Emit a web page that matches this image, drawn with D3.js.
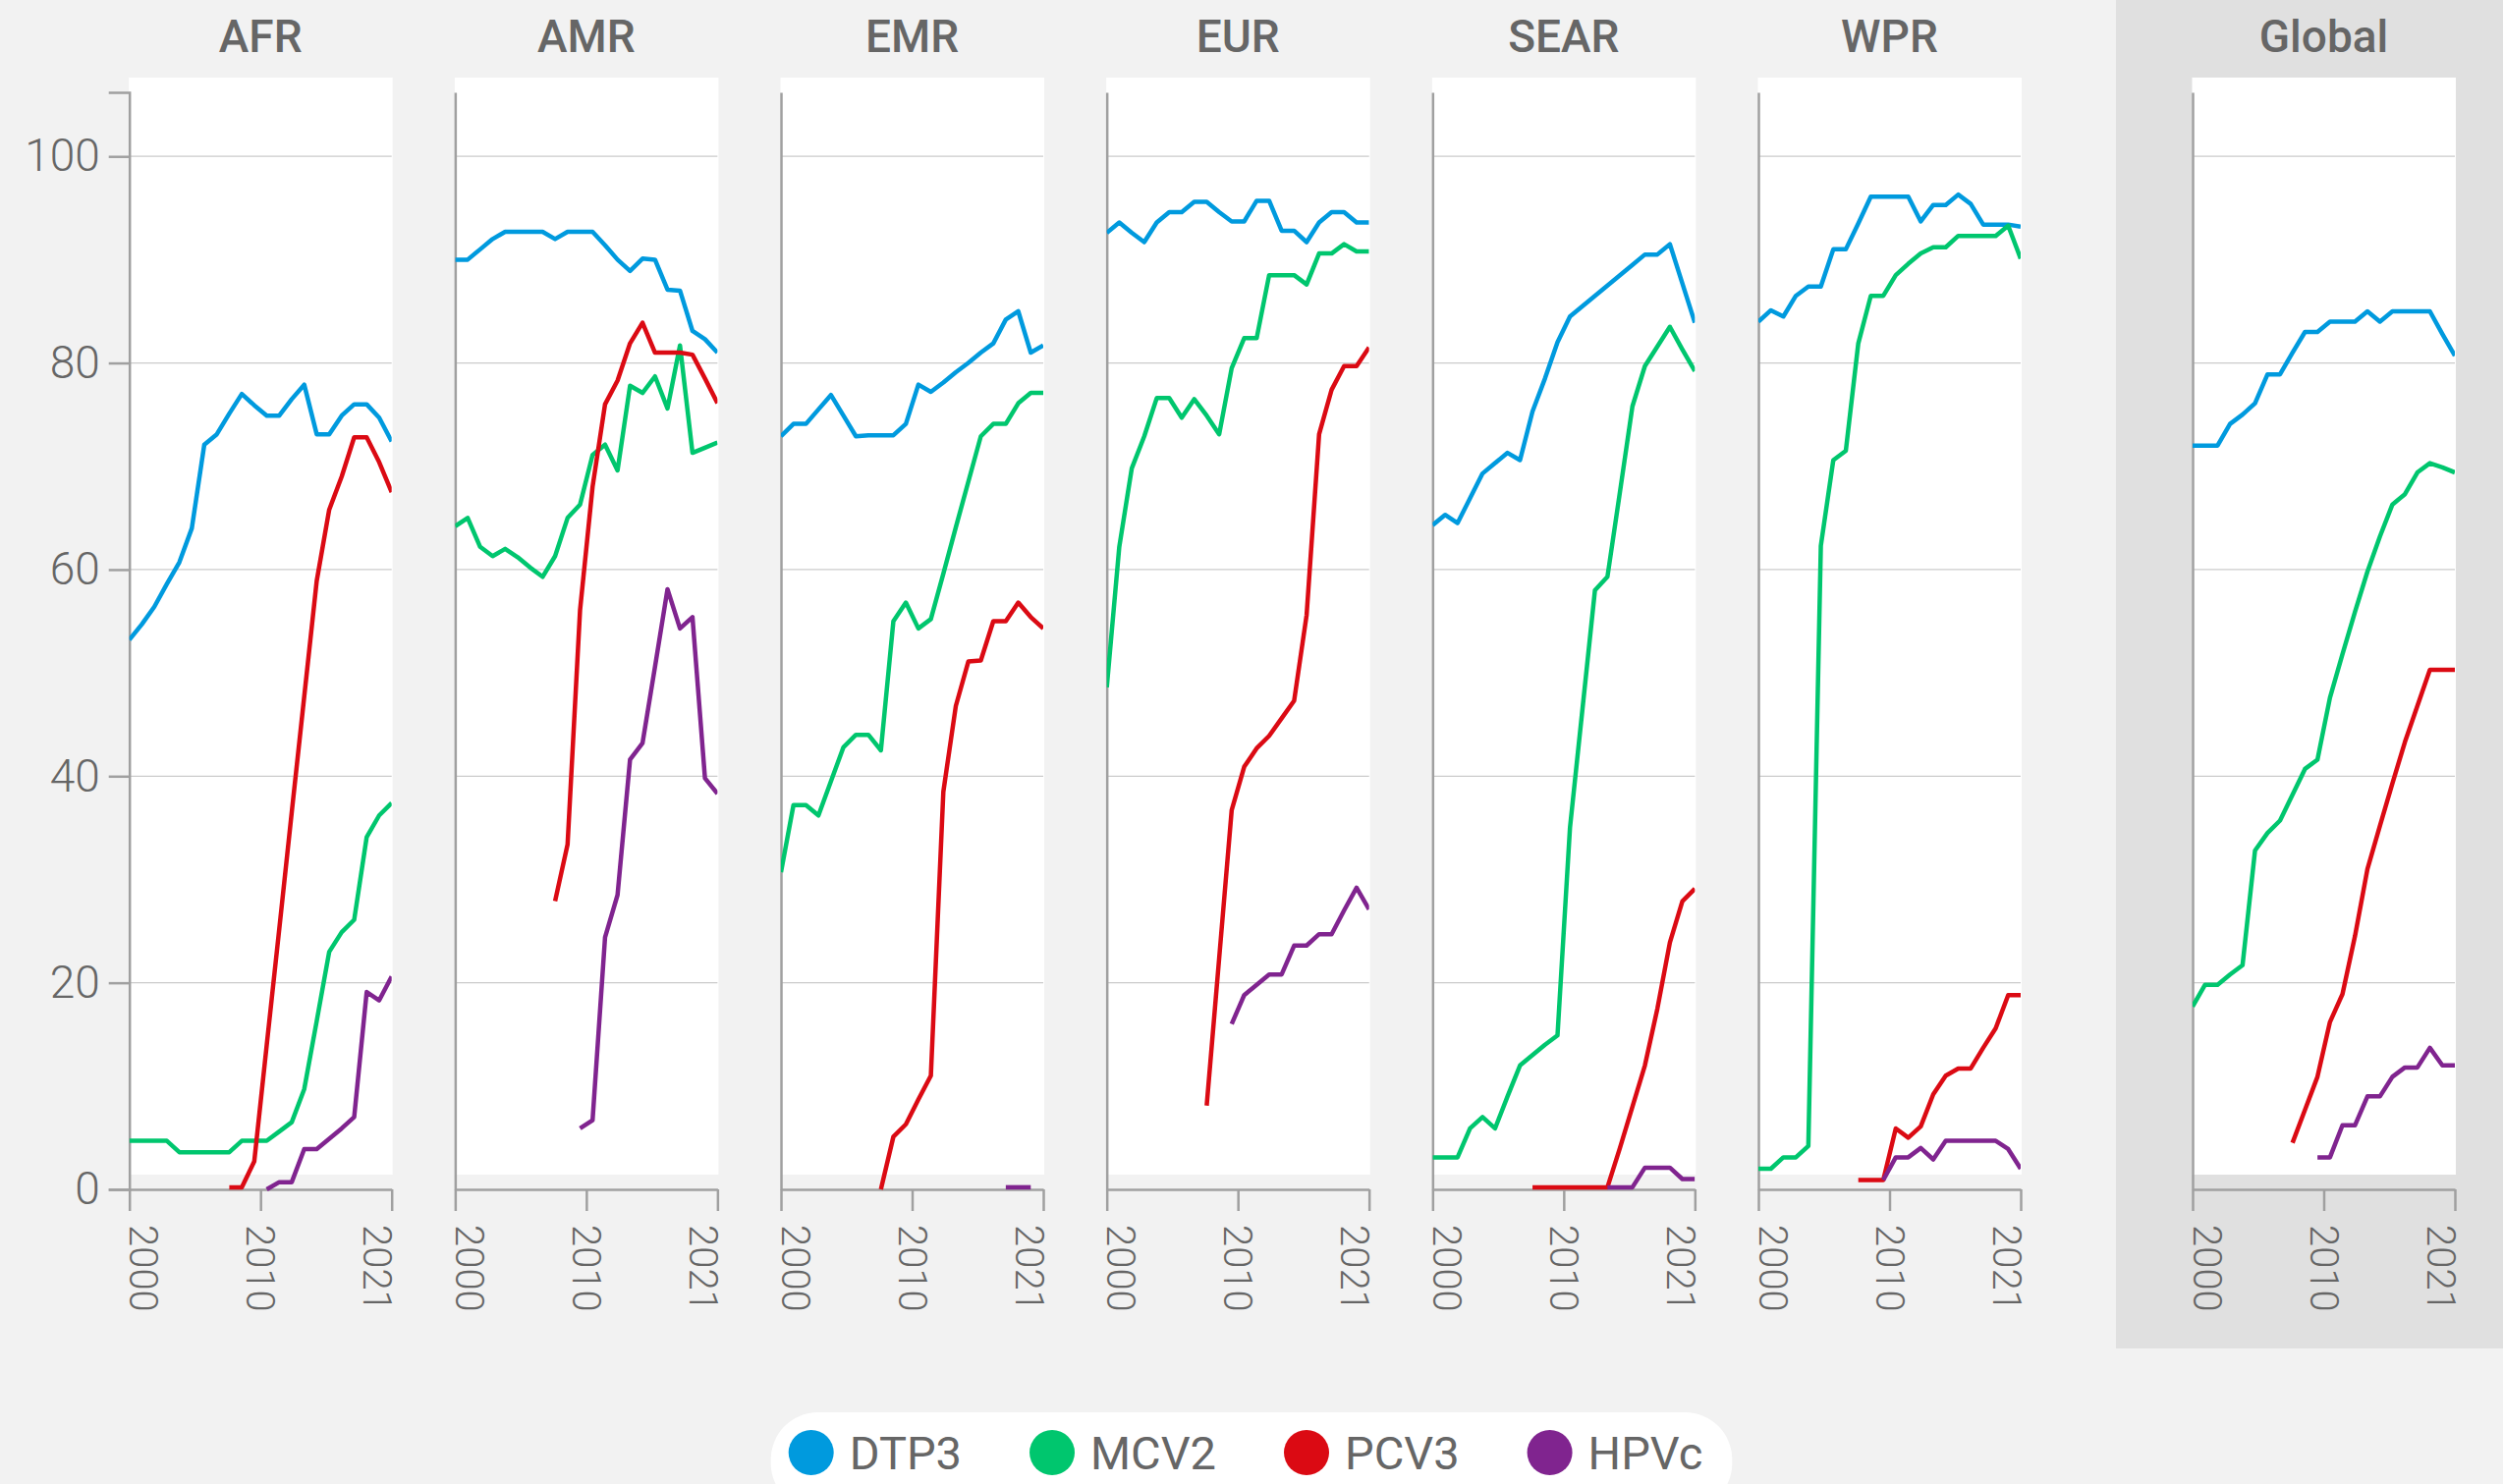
<!DOCTYPE html>
<html>
<head>
<meta charset="utf-8">
<script src="https://cdn.jsdelivr.net/npm/d3@7"></script>
<style>
  html, body { margin: 0; padding: 0; background: #f2f2f2; }
  svg { display: block; font-family: Roboto, "Noto Sans", sans-serif; }
</style>
</head>
<body>
<svg id="chart" width="2548" height="1511"></svg>
<script>
// ---- Data: immunization coverage (%) by WHO region, 2000–2021 ----
const years = [2000, 2001, 2002, 2003, 2004, 2005, 2006, 2007, 2008, 2009, 2010,
               2011, 2012, 2013, 2014, 2015, 2016, 2017, 2018, 2019, 2020, 2021];
const regions = ["AFR", "AMR", "EMR", "EUR", "SEAR", "WPR", "Global"];
const seriesNames = ["DTP3", "MCV2", "PCV3", "HPVc"];
const seriesColors = ["#009ade", "#00c66e", "#db0a13", "#80248f"];
const yTicks = [0, 20, 40, 60, 80, 100];
const xTickLabels = ["2000", "2010", "2021"];
const _ = null;

const afrDTP3 = [53.2, 54.7, 56.4, 58.6, 60.7, 64.0, 72.1, 73.1, 75.1, 77.0, 75.9, 74.9, 74.9, 76.5, 77.9, 73.1, 73.1, 74.9, 76.0, 76.0, 74.7, 72.4];
const afrMCV2 = [4.7, 4.7, 4.7, 4.7, 3.6, 3.6, 3.6, 3.6, 3.6, 4.7, 4.7, 4.7, 5.6, 6.5, 9.7, 16.3, 23.0, 24.9, 26.1, 34.1, 36.2, 37.4];
const afrPCV3 = [_, _, _, _, _, _, _, _, 0.2, 0.2, 2.7, 14.0, 25.2, 36.5, 47.7, 58.9, 65.8, 69.0, 72.8, 72.8, 70.4, 67.5];
const afrHPVc = [_, _, _, _, _, _, _, _, _, _, _, 0.0, 0.7, 0.7, 3.9, 3.9, 4.9, 5.9, 7.0, 19.1, 18.3, 20.6];

const amrDTP3 = [90.0, 90.0, 91.0, 92.0, 92.7, 92.7, 92.7, 92.7, 92.0, 92.7, 92.7, 92.7, 91.4, 90.0, 88.9, 90.1, 90.0, 87.1, 87.0, 83.1, 82.3, 81.0];
const amrMCV2 = [64.2, 65.0, 62.2, 61.3, 62.0, 61.2, 60.2, 59.3, 61.3, 65.0, 66.3, 71.1, 72.1, 69.6, 77.8, 77.1, 78.7, 75.6, 81.7, 71.3, 71.8, 72.3];
const amrPCV3 = [_, _, _, _, _, _, _, _, 27.9, 33.4, 56.1, 68.0, 76.0, 78.3, 81.9, 83.9, 81.0, 81.0, 81.0, 80.8, 78.5, 76.1];
const amrHPVc = [_, _, _, _, _, _, _, _, _, _, 5.9, 6.7, 24.4, 28.5, 41.6, 43.2, 50.6, 58.1, 54.3, 55.4, 39.8, 38.3];

const emrDTP3 = [72.9, 74.1, 74.1, 75.5, 76.9, 74.9, 72.9, 73.0, 73.0, 73.0, 74.1, 77.9, 77.2, 78.1, 79.1, 80.0, 81.0, 81.9, 84.2, 85.0, 81.0, 81.7];
const emrMCV2 = [30.7, 37.2, 37.2, 36.2, 39.5, 42.8, 44.0, 44.0, 42.5, 55.0, 56.8, 54.3, 55.2, 59.6, 64.1, 68.5, 72.9, 74.1, 74.1, 76.1, 77.1, 77.1];
const emrPCV3 = [_, _, _, _, _, _, _, _, 0.0, 5.1, 6.3, 8.7, 11.0, 38.5, 46.8, 51.1, 51.2, 55.0, 55.0, 56.8, 55.4, 54.3];
const emrHPVc = [_, _, _, _, _, _, _, _, _, _, _, _, _, _, _, _, _, _, 0.2, 0.2, 0.2, _];

const eurDTP3 = [92.6, 93.6, 92.6, 91.7, 93.6, 94.6, 94.6, 95.6, 95.6, 94.6, 93.7, 93.7, 95.7, 95.7, 92.8, 92.8, 91.7, 93.6, 94.6, 94.6, 93.6, 93.6];
const eurMCV2 = [48.6, 62.2, 69.8, 72.9, 76.6, 76.6, 74.7, 76.5, 74.9, 73.1, 79.5, 82.4, 82.4, 88.5, 88.5, 88.5, 87.6, 90.6, 90.6, 91.5, 90.8, 90.8];
const eurPCV3 = [_, _, _, _, _, _, _, _, 8.1, 22.4, 36.7, 40.9, 42.7, 43.9, 45.6, 47.3, 55.6, 73.1, 77.4, 79.7, 79.7, 81.5];
const eurHPVc = [_, _, _, _, _, _, _, _, _, _, 16.0, 18.8, 19.8, 20.8, 20.8, 23.6, 23.6, 24.7, 24.7, 27.0, 29.2, 27.1];

const searDTP3 = [64.3, 65.3, 64.5, 66.9, 69.3, 70.3, 71.3, 70.6, 75.3, 78.5, 82.0, 84.5, 85.5, 86.5, 87.5, 88.5, 89.5, 90.5, 90.5, 91.5, 87.7, 83.9];
const searMCV2 = [3.1, 3.1, 3.1, 5.9, 7.0, 5.9, 9.0, 12.0, 13.0, 14.0, 14.9, 35.0, 46.5, 58.0, 59.3, 67.5, 75.8, 79.7, 81.6, 83.5, 81.3, 79.2];
const searPCV3 = [_, _, _, _, _, _, _, _, 0.2, 0.2, 0.2, 0.2, 0.2, 0.2, 0.2, 4.0, 8.0, 12.0, 17.5, 23.9, 27.9, 29.1];
const searHPVc = [_, _, _, _, _, _, _, _, _, _, _, _, _, _, 0.2, 0.2, 0.2, 2.1, 2.1, 2.1, 1.0, 1.0];

const wprDTP3 = [84.0, 85.1, 84.5, 86.5, 87.4, 87.4, 91.0, 91.0, 93.5, 96.1, 96.1, 96.1, 96.1, 93.7, 95.3, 95.3, 96.3, 95.4, 93.4, 93.4, 93.4, 93.2];
const wprMCV2 = [2.0, 2.0, 3.1, 3.1, 4.2, 62.3, 70.6, 71.5, 81.9, 86.5, 86.5, 88.5, 89.6, 90.6, 91.2, 91.2, 92.3, 92.3, 92.3, 92.3, 93.3, 90.1];
const wprPCV3 = [_, _, _, _, _, _, _, _, 0.9, 0.9, 0.9, 5.9, 5.0, 6.1, 9.2, 11.0, 11.7, 11.7, 13.7, 15.6, 18.8, 18.8];
const wprHPVc = [_, _, _, _, _, _, _, _, _, _, 0.9, 3.1, 3.1, 4.0, 2.9, 4.7, 4.7, 4.7, 4.7, 4.7, 3.9, 2.0];

const globalDTP3 = [72.0, 72.0, 72.0, 74.1, 75.0, 76.1, 78.9, 78.9, 81.0, 83.0, 83.0, 84.0, 84.0, 84.0, 85.0, 84.0, 85.0, 85.0, 85.0, 85.0, 82.8, 80.7];
const globalMCV2 = [17.7, 19.8, 19.8, 20.8, 21.7, 32.8, 34.5, 35.7, 38.2, 40.7, 41.6, 47.6, 51.8, 55.9, 59.8, 63.2, 66.3, 67.3, 69.4, 70.3, 69.9, 69.4];
const globalPCV3 = [_, _, _, _, _, _, _, _, 4.5, 7.7, 10.9, 16.2, 18.9, 24.5, 31.0, 35.2, 39.3, 43.3, 46.8, 50.3, 50.3, 50.3];
const globalHPVc = [_, _, _, _, _, _, _, _, _, _, 3.1, 3.1, 6.2, 6.2, 9.0, 9.0, 10.9, 11.8, 11.8, 13.7, 12.0, 12.0];

// Series per region, in the order of seriesNames
const regionSeries = {
  AFR: [afrDTP3, afrMCV2, afrPCV3, afrHPVc],
  AMR: [amrDTP3, amrMCV2, amrPCV3, amrHPVc],
  EMR: [emrDTP3, emrMCV2, emrPCV3, emrHPVc],
  EUR: [eurDTP3, eurMCV2, eurPCV3, eurHPVc],
  SEAR: [searDTP3, searMCV2, searPCV3, searHPVc],
  WPR: [wprDTP3, wprMCV2, wprPCV3, wprHPVc],
  Global: [globalDTP3, globalMCV2, globalPCV3, globalHPVc]
};

// ---- Layout ----
const W = 2548, H = 1511;
const panelW = 267;
const firstX = 131.7, panelStep = 331.66;
const globalX = 2232;
const textColor = "#666666";
const axisColor = "#a0a0a0";
const gridColor = "#cbcbcb";

const svg = d3.select("#chart");
svg.append("rect").attr("width", W).attr("height", H).attr("fill", "#f2f2f2");

// shaded block behind the Global panel
svg.append("rect")
  .attr("x", 2154).attr("y", 0)
  .attr("width", W - 2154).attr("height", 1373)
  .attr("fill", "#e0e0e0");

const y = d3.scaleLinear().domain([0, 106.2]).range([1211, 94]);
const plotPad = 15; // white plot background sits slightly above the axis range

regions.forEach((region, ri) => {
  const x0 = region === "Global" ? globalX : firstX + ri * panelStep;
  const x = d3.scaleLinear().domain([years[0], years[years.length - 1]]).range([x0, x0 + panelW]);
  const g = svg.append("g").attr("class", "panel panel-" + region);

  // title
  g.append("text")
    .attr("x", x0 + panelW / 2).attr("y", 53)
    .attr("text-anchor", "middle")
    .attr("font-size", 46).attr("font-weight", 500)
    .attr("fill", textColor)
    .text(region);

  // white plot background
  g.append("rect")
    .attr("x", x0 - 0.5)
    .attr("y", y.range()[1] - plotPad)
    .attr("width", panelW + 1.5)
    .attr("height", y.range()[0] - y.range()[1])
    .attr("fill", "#ffffff");

  // horizontal gridlines
  g.append("g").selectAll("line")
    .data(yTicks.filter(t => t > 0))
    .join("line")
    .attr("x1", x0).attr("x2", x0 + panelW)
    .attr("y1", d => y(d)).attr("y2", d => y(d))
    .attr("stroke", gridColor).attr("stroke-width", 1.3);

  // y axis (labels on the first panel only)
  const yAxis = d3.axisLeft(y).tickValues(yTicks).tickSizeOuter(0);
  if (ri === 0) {
    yAxis.tickSize(21).tickPadding(9);
  } else {
    yAxis.tickSize(0).tickFormat("");
  }
  const ya = g.append("g").attr("transform", `translate(${x0},0)`).call(yAxis);
  ya.select(".domain").attr("stroke", axisColor).attr("stroke-width", 2.5);
  ya.selectAll(".tick line").attr("stroke", axisColor).attr("stroke-width", 2.5);
  ya.selectAll(".tick text")
    .attr("fill", textColor).attr("font-size", 46).attr("font-weight", 300)
    .attr("font-family", "Roboto, sans-serif");

  // x axis: first year, middle and last year
  const midYear = (years[0] + years[years.length - 1]) / 2;
  const xAxis = d3.axisBottom(x)
    .tickValues([years[0], midYear, years[years.length - 1]])
    .tickFormat((d, i) => xTickLabels[i])
    .tickSize(22).tickSizeOuter(0);
  const xa = g.append("g").attr("transform", `translate(0,${y(0)})`).call(xAxis);
  xa.select(".domain").attr("stroke", axisColor).attr("stroke-width", 2.5);
  xa.selectAll(".tick line").attr("stroke", axisColor).attr("stroke-width", 2.5);
  const labelShift = ["0em", "0.36em", "0.72em"];
  xa.selectAll(".tick text")
    .attr("transform", "rotate(90)")
    .attr("x", 36).attr("y", 0)
    .attr("dy", (d, i) => labelShift[i])
    .attr("text-anchor", "start")
    .attr("fill", textColor).attr("font-size", 40).attr("font-weight", 300)
    .attr("font-family", "Roboto, sans-serif");

  // clip lines to the panel's horizontal extent
  const clipId = "clip-" + region;
  svg.append("clipPath").attr("id", clipId)
    .append("rect").attr("x", x0).attr("y", 0).attr("width", panelW).attr("height", 1240);

  const line = d3.line()
    .defined(d => d != null)
    .x((d, i) => x(years[i]))
    .y(d => y(d));

  const lg = g.append("g").attr("clip-path", `url(#${clipId})`);
  regionSeries[region].forEach((values, si) => {
    lg.append("path")
      .datum(values)
      .attr("fill", "none")
      .attr("stroke", seriesColors[si])
      .attr("stroke-width", 4.5)
      .attr("stroke-linejoin", "round")
      .attr("d", line);
  });
});

// ---- Legend ----
const legend = svg.append("g").attr("class", "legend");
const pill = legend.append("rect").attr("fill", "#ffffff");
const r = 23, textGap = 16, itemGap = 69, padL = 18, padR = 30;
let cursor = 0;
const items = [];
seriesNames.forEach((name, i) => {
  const item = legend.append("g");
  item.append("circle").attr("cx", cursor + r).attr("cy", 0).attr("r", r).attr("fill", seriesColors[i]);
  const t = item.append("text")
    .attr("x", cursor + 2 * r + textGap).attr("y", 0).attr("dy", "0.36em")
    .attr("font-size", 47).attr("fill", textColor)
    .text(name);
  const tw = t.node().getComputedTextLength();
  cursor += 2 * r + textGap + tw + itemGap;
  items.push(item);
});
const contentW = cursor - itemGap;
const pillW = contentW + padL + padR;
const pillX = (W - pillW) / 2;
const legendCY = 1479;
pill.attr("x", -padL).attr("y", 1438 - legendCY)
  .attr("width", pillW).attr("height", 100).attr("rx", 48);
legend.attr("transform", `translate(${pillX + padL},${legendCY})`);
</script>
</body>
</html>
